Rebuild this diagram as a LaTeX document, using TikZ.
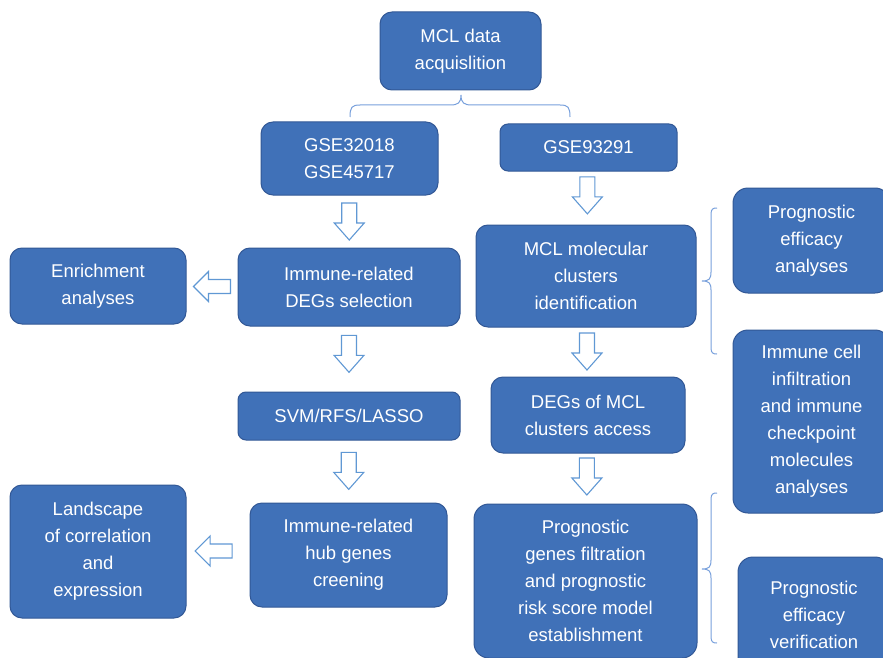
\documentclass[tikz,border=0pt]{standalone}
\usepackage{fontspec}
\setmainfont{Liberation Sans}
\usetikzlibrary{calc}
\definecolor{boxfill}{RGB}{64,113,184}
\definecolor{boxborder}{RGB}{50,88,150}
\definecolor{arrcol}{RGB}{96,152,212}
\definecolor{bracecol}{RGB}{120,160,220}
\tikzset{
  box/.style={draw=boxborder, line width=1pt, fill=boxfill, rounded corners=12pt, text=white,
    align=center, inner sep=0pt, font={\fontsize{18.5}{27}\selectfont}},
  darr/.pic={\draw[arrcol, line width=1.1pt, fill=white, line join=miter]
     (-7.5,-18.5) -- (7.5,-18.5) -- (7.5,1.5) -- (15,1.5) -- (0,18.5) -- (-15,1.5) -- (-7.5,1.5) -- cycle;},
  larr/.pic={\draw[arrcol, line width=1.1pt, fill=white, line join=miter]
     (18.5,-7) -- (18.5,7) -- (-3.5,7) -- (-3.5,15) -- (-18.5,0) -- (-3.5,-15) -- (-3.5,-7) -- cycle;},
  brace/.style={draw=bracecol, line width=1pt}
}
\begin{document}
\begin{tikzpicture}[x=1pt,y=-1pt]
\useasboundingbox (0,0) rectangle (883,658);
\clip (0,0) rectangle (883,658);
\fill[white] (0,0) rectangle (883,658);

\node[box, minimum width=161pt, minimum height=78pt] (b1) at (460.5,51) {MCL data\\acquislition};
\node[box, minimum width=177pt, minimum height=73pt] (b2) at (349.5,158.5) {GSE32018\\GSE45717};
\node[box, minimum width=177pt, minimum height=47pt, rounded corners=8pt] (b3) at (588.5,147.5) {GSE93291};
\node[box, minimum width=176pt, minimum height=76pt] (b4) at (98,286) {Enrichment\\analyses};
\node[box, minimum width=222pt, minimum height=78pt] (b5) at (349,287) {Immune-related\\DEGs selection};
\node[box, minimum width=220pt, minimum height=102pt] (b6) at (586,276) {MCL molecular\\clusters\\identification};
\node[box, minimum width=157pt, minimum height=105pt, rounded corners=15pt] (b7) at (811.5,240.5) {Prognostic\\efficacy\\analyses};
\node[box, minimum width=157pt, minimum height=183pt, rounded corners=15pt] (b8) at (811.5,421.5) {Immune cell\\infiltration\\and immune\\checkpoint\\molecules\\analyses};
\node[box, minimum width=222pt, minimum height=48pt, rounded corners=8pt] (b9) at (349,416) {SVM/RFS/LASSO};
\node[box, minimum width=194pt, minimum height=76pt] (b10) at (588,415) {DEGs of MCL\\clusters access};
\node[box, minimum width=176pt, minimum height=133pt] (b11) at (98,551.5) {Landscape\\of correlation\\and\\expression};
\node[box, minimum width=197pt, minimum height=104pt] (b12) at (348.5,555) {Immune-related\\hub genes\\creening};
\node[box, minimum width=223pt, minimum height=154pt, rounded corners=15pt] (b13) at (585.5,581) {Prognostic\\genes filtration\\and prognostic\\risk score model\\establishment};
\node[box, minimum width=152pt, minimum height=115pt, rounded corners=15pt] (b14) at (814,614.5) {Prognostic\\efficacy\\verification};

% block arrows
\pic at ($(b2.south)!0.5!(b5.north)$) {darr};
\pic at ($(b3.south)!0.45!(b6.north)$) {darr};
\pic at ($(b5.south)!0.42!(b9.north)$) {darr};
\pic at ($(b6.south)!0.49!(b10.north)$) {darr};
\pic at ($(b9.south)!0.49!(b12.north)$) {darr};
\pic at ($(b10.south)!0.46!(b13.north)$) {darr};
\pic at ($(b4.east)!0.5!(b5.west)$) {larr};
\pic at ($(b11.east)!0.43!(b12.west)+(0,-2)$) {larr};

% braces
\draw[brace] (350,117) .. controls (350,107) and (352,105) .. (360,105) -- (450,105)
  .. controls (458,105) and (461,103) .. (461,95)
  .. controls (461,103) and (464,105) .. (472,105) -- (560,105)
  .. controls (568,105) and (570,107) .. (570,117);
\draw[brace] (717,208) .. controls (713,208) and (711,209) .. (711,214) -- (711,272)
  .. controls (711,279) and (709,281) .. (702,281)
  .. controls (709,281) and (711,283) .. (711,290) -- (711,348)
  .. controls (711,353) and (713,354) .. (717,354);
\draw[brace] (717,493) .. controls (713,493) and (711,494) .. (711,499) -- (711,560)
  .. controls (711,567) and (709,569) .. (702,569)
  .. controls (709,569) and (711,571) .. (711,578) -- (711,637)
  .. controls (711,642) and (713,643) .. (717,643);
\end{tikzpicture}
\end{document}
